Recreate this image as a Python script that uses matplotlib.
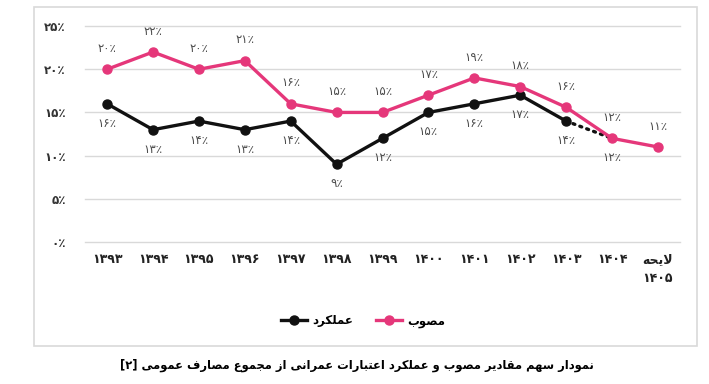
import re
import matplotlib
matplotlib.use('Agg')
import matplotlib.pyplot as plt
from matplotlib.patches import Rectangle

# data
years = ['۱۳۹۳', '۱۳۹۴', '۱۳۹۵', '۱۳۹۶', '۱۳۹۷', '۱۳۹۸', '۱۳۹۹',
         '۱۴۰۰', '۱۴۰۱', '۱۴۰۲', '۱۴۰۳', '۱۴۰۴', 'لایحه\n۱۴۰۵']
approved = [20, 22, 20, 21, 16, 15, 15, 17, 19, 18, 15.6, 12, 11]
actual = [16, 13, 14, 13, 14, 9, 12, 15, 16, 17, 14]
actual_est = [14, 12]   # 1403 -> 1404, dotted
yticks = [0, 5, 10, 15, 20, 25]
name_approved = 'مصوب'
name_actual = 'عملکرد'
caption = 'نمودار سهم مقادیر مصوب و عملکرد اعتبارات عمرانی از مجموع مصارف عمومی [۲]'

PINK = '#e5377a'
BLACK = '#111111'
GRAY = '#4d4d4d'

# --- minimal Persian shaping (no arabic_reshaper / bidi available) ---
FORMS = {  # isolated, final, initial, medial
    'ا': ('\uFE8D', '\uFE8E', None, None),
    'ب': ('\uFE8F', '\uFE90', '\uFE91', '\uFE92'),
    'ت': ('\uFE95', '\uFE96', '\uFE97', '\uFE98'),
    'ج': ('\uFE9D', '\uFE9E', '\uFE9F', '\uFEA0'),
    'ح': ('\uFEA1', '\uFEA2', '\uFEA3', '\uFEA4'),
    'د': ('\uFEA9', '\uFEAA', None, None),
    'ر': ('\uFEAD', '\uFEAE', None, None),
    'ز': ('\uFEAF', '\uFEB0', None, None),
    'س': ('\uFEB1', '\uFEB2', '\uFEB3', '\uFEB4'),
    'ص': ('\uFEB9', '\uFEBA', '\uFEBB', '\uFEBC'),
    'ع': ('\uFEC9', '\uFECA', '\uFECB', '\uFECC'),
    'ف': ('\uFED1', '\uFED2', '\uFED3', '\uFED4'),
    'ق': ('\uFED5', '\uFED6', '\uFED7', '\uFED8'),
    'ل': ('\uFEDD', '\uFEDE', '\uFEDF', '\uFEE0'),
    'م': ('\uFEE1', '\uFEE2', '\uFEE3', '\uFEE4'),
    'ن': ('\uFEE5', '\uFEE6', '\uFEE7', '\uFEE8'),
    'ه': ('\uFEE9', '\uFEEA', '\uFEEB', '\uFEEC'),
    'و': ('\uFEED', '\uFEEE', None, None),
    'ی': ('\uFBFC', '\uFBFD', '\uFBFE', '\uFBFF'),
    'ک': ('\uFB8E', '\uFB8F', '\uFB90', '\uFB91'),
    'لا': ('\uFEFB', '\uFEFC', None, None),
}
MIRROR = str.maketrans('[]()', '][)(')
DIGITS = '۰۱۲۳۴۵۶۷۸۹0123456789'


def shape(s):
    toks, i = [], 0
    while i < len(s):
        if s[i] == 'ل' and s[i + 1:i + 2] == 'ا':
            toks.append('لا')
            i += 2
        else:
            toks.append(s[i])
            i += 1
    out = []
    for k, t in enumerate(toks):
        if t not in FORMS:
            out.append(t)
            continue
        prev = toks[k - 1] if k > 0 else None
        nxt = toks[k + 1] if k + 1 < len(toks) else None
        jp = prev in FORMS and FORMS[prev][2] is not None
        jn = nxt in FORMS and FORMS[t][2] is not None
        f = FORMS[t]
        out.append(f[3] if jp and jn else f[1] if jp else f[2] if jn else f[0])
    return ''.join(out)


def rtl(text):
    lines = []
    for line in text.split('\n'):
        runs = re.findall('[%s]+|[^%s]+' % (DIGITS, DIGITS), shape(line))
        vis = ''
        for r in reversed(runs):
            vis += r if r[0] in DIGITS else r[::-1].translate(MIRROR)
        lines.append(vis)
    return '\n'.join(lines)


def pct(v):
    return str(int(round(v))).translate(str.maketrans('0123456789', '۰۱۲۳۴۵۶۷۸۹')) + '٪'


plt.rcParams['font.family'] = ['DejaVu Sans']

fig = plt.figure(figsize=(7.09, 3.84), dpi=100)
ax = fig.add_axes([0.12, 0.370, 0.839, 0.562])

x = list(range(len(years)))
ax.plot(x, approved, color=PINK, lw=2.4, marker='o', ms=6.5, zorder=4, label=rtl(name_approved))
ax.plot(x[:len(actual)], actual, color=BLACK, lw=2.4, marker='o', ms=6.5, zorder=3, label=rtl(name_actual))
ax.plot(x[len(actual) - 1:len(actual) + 1], actual_est, color=BLACK, lw=2.4,
        ls=(0, (0.6, 1.6)), dash_capstyle='round', zorder=2)

for xi, v in zip(x, approved):
    ax.annotate(pct(v), (xi, v), xytext=(0, 15), textcoords='offset points',
                ha='center', va='center', fontsize=8.5, color=GRAY)
for xi, v in zip(x, actual + actual_est[1:]):
    ax.annotate(pct(v), (xi, v), xytext=(0, -14), textcoords='offset points',
                ha='center', va='center', fontsize=8.5, color=GRAY)

ax.set_xlim(-0.48, len(years) - 0.52)
ax.set_ylim(0, 25)
ax.set_yticks(yticks)
ax.set_yticklabels([pct(t) for t in yticks], fontsize=8.5, fontweight='bold', color='#333333')
ax.set_xticks(x)
ax.set_xticklabels([rtl(y) for y in years], fontsize=9, fontweight='bold', color='#222222',
                   linespacing=1.6)
for lab in ax.get_xticklabels():
    lab.set_verticalalignment('top')
ax.tick_params(axis='y', length=0, pad=14)
ax.tick_params(axis='x', length=0, pad=8)
ax.grid(axis='y', color='#d9d9d9', lw=1)
for gl in ax.get_ygridlines():
    gl.set_clip_on(False)
ax.set_axisbelow(True)
for s in ax.spines.values():
    s.set_visible(False)

h, l = ax.get_legend_handles_labels()
fig.legend(h[::-1], l[::-1], ncol=2, loc='center', bbox_to_anchor=(0.512, 0.164),
           frameon=False, handlelength=2.2, columnspacing=2.0, handletextpad=0.4,
           prop={'size': 8.5, 'weight': 'bold'})

fig.patches.append(Rectangle((34 / 709, 1 - 346 / 384), 663 / 709, 339 / 384,
                             transform=fig.transFigure, fill=False, ec='#d9d9d9', lw=1.2))
fig.text(0.503, 1 - 365 / 384, rtl(caption), ha='center', va='center',
         fontsize=8.3, fontweight='bold')

fig.savefig('out.png', dpi=100)
